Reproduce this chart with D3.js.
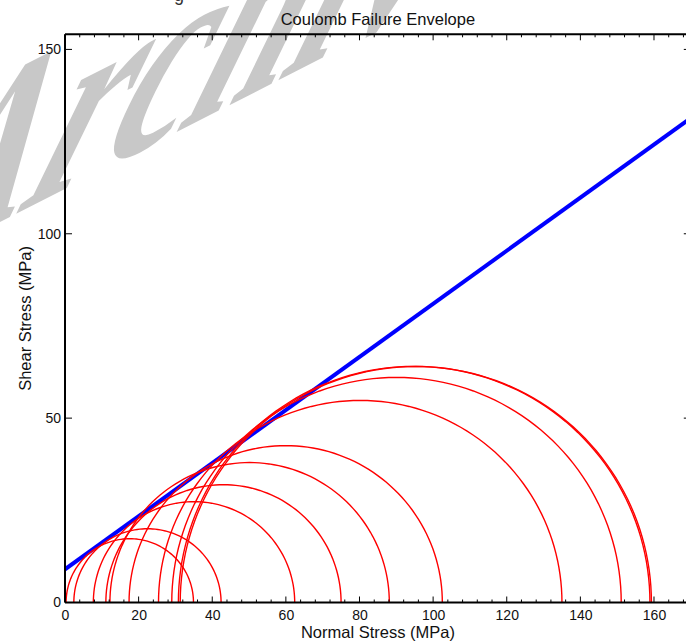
<!DOCTYPE html>
<html>
<head>
<meta charset="utf-8">
<script src="https://cdn.jsdelivr.net/npm/d3@7"></script>
<style>
  html, body { margin: 0; padding: 0; background: #fff; }
  svg { display: block; }
  text { font-family: "Liberation Sans", Arial, sans-serif; }
</style>
</head>
<body>
<svg id="chart" width="686" height="644"></svg>
<script>
// Mohr circles: minimum and maximum principal stresses (MPa)
const sigma3 = [0.3, 2.4, 7.7, 11.1, 12.2, 17.4, 25.4, 29.0, 30.8, 31.3];
const sigma1 = [34.9, 42.4, 62.4, 75.0, 88.1, 102.5, 135.0, 151.1, 158.9, 159.3];

// Coulomb envelope: tau = cohesion + mu * sigma
const cohesion = 9;
const frictionCoeff = 0.72;

// Axis ticks
const xMajorTicks = [0, 20, 40, 60, 80, 100, 120, 140, 160];
const yMajorTicks = [0, 50, 100, 150];
const xDomain = [0, 170];
const yDomain = [0, 154.1];

const titleText = "Coulomb Failure Envelope";
const xLabel = "Normal Stress (MPa)";
const yLabel = "Shear Stress (MPa)";

const svg = d3.select("#chart");
const plot = { left: 65, right: 690.8, top: 34.3, bottom: 602.5 };

const x = d3.scaleLinear().domain(xDomain).range([plot.left, plot.right]);
const y = d3.scaleLinear().domain(yDomain).range([plot.bottom, plot.top]);

// Background watermark lettering (skewed and stretched)
svg.append("text")
  .attr("transform", "matrix(0.900,-0.458,-0.690,1.420,-122,284)")
  .attr("font-weight", "bold")
  .attr("font-size", 205)
  .attr("fill", "#c8c8c8")
  .style("font-family", "'Liberation Serif', serif")
  .text("Archive");

// Header fragment above the page
svg.append("text")
  .attr("x", 174).attr("y", 1)
  .attr("font-size", 18)
  .attr("fill", "#333")
  .text("g");

svg.append("defs").append("clipPath").attr("id", "plotClip")
  .append("rect")
  .attr("x", plot.left).attr("y", plot.top)
  .attr("width", plot.right - plot.left).attr("height", plot.bottom - plot.top);

const g = svg.append("g").attr("clip-path", "url(#plotClip)");

// Failure envelope
const envLine = d3.line().x(d => x(d)).y(d => y(cohesion + frictionCoeff * d));
g.append("path")
  .datum(xDomain)
  .attr("d", envLine)
  .attr("fill", "none")
  .attr("stroke", "#0000ff")
  .attr("stroke-width", 4);

// Mohr semicircles traced in data space
const angles = d3.range(0, 181, 2).map(a => a * Math.PI / 180);
const circleLine = d3.line().x(d => x(d[0])).y(d => y(d[1]));
sigma3.forEach((s3, i) => {
  const s1 = sigma1[i];
  const c = (s1 + s3) / 2, r = (s1 - s3) / 2;
  const pts = angles.map(t => [c + r * Math.cos(t), r * Math.sin(t)]);
  g.append("path")
    .attr("d", circleLine(pts))
    .attr("fill", "none")
    .attr("stroke", "#ff0000")
    .attr("stroke-width", 1.4);
});

// Tick labels
const axesG = svg.append("g");
const xBottom = d3.axisBottom(x).tickValues(xMajorTicks).tickSize(0).tickPadding(8).tickFormat(d3.format("d"));
axesG.append("g").attr("transform", `translate(0,${plot.bottom})`).call(xBottom)
  .call(s => s.select(".domain").remove())
  .selectAll("text").attr("font-size", 14).attr("fill", "#111").attr("font-family", "Liberation Sans, Arial, sans-serif");

const yLeft = d3.axisLeft(y).tickValues(yMajorTicks).tickSize(0).tickPadding(4).tickFormat(d3.format("d"));
axesG.append("g").attr("transform", `translate(${plot.left},0)`).call(yLeft)
  .call(s => s.select(".domain").remove())
  .selectAll("text").attr("font-size", 14).attr("fill", "#111").attr("font-family", "Liberation Sans, Arial, sans-serif");

// Inward ticks on all four sides
const xMinor = d3.range(0, 170, 4);
const tickG = svg.append("g").attr("stroke", "#000").attr("stroke-width", 1);
xMinor.forEach(v => {
  const major = xMajorTicks.includes(v);
  const len = major ? 6 : 3;
  tickG.append("line").attr("x1", x(v)).attr("x2", x(v))
    .attr("y1", plot.bottom).attr("y2", plot.bottom - len);
  tickG.append("line").attr("x1", x(v)).attr("x2", x(v))
    .attr("y1", plot.top).attr("y2", plot.top + len);
});
yMajorTicks.forEach(v => {
  tickG.append("line").attr("x1", plot.left).attr("x2", plot.left + 7)
    .attr("y1", y(v)).attr("y2", y(v));
  tickG.append("line").attr("x1", plot.right).attr("x2", plot.right - 7)
    .attr("y1", y(v)).attr("y2", y(v));
});

// Frame lines
const frame = svg.append("g").attr("stroke", "#000").attr("stroke-width", 2).attr("fill", "none");
frame.append("line").attr("x1", plot.left).attr("x2", plot.right).attr("y1", plot.bottom).attr("y2", plot.bottom);
frame.append("line").attr("x1", plot.left).attr("x2", plot.right).attr("y1", plot.top).attr("y2", plot.top);
frame.append("line").attr("x1", plot.left).attr("x2", plot.left).attr("y1", plot.top).attr("y2", plot.bottom);
frame.append("line").attr("x1", plot.right).attr("x2", plot.right).attr("y1", plot.top).attr("y2", plot.bottom);

// Title and axis labels
svg.append("text")
  .attr("x", (plot.left + plot.right) / 2).attr("y", 25)
  .attr("text-anchor", "middle").attr("font-size", 16.5).attr("fill", "#111")
  .text(titleText);
svg.append("text")
  .attr("x", (plot.left + plot.right) / 2).attr("y", 638)
  .attr("text-anchor", "middle").attr("font-size", 16.5).attr("fill", "#111")
  .text(xLabel);
svg.append("text")
  .attr("transform", `translate(31,${(plot.top + plot.bottom) / 2}) rotate(-90)`)
  .attr("text-anchor", "middle").attr("font-size", 16.5).attr("fill", "#111")
  .text(yLabel);
</script>
</body>
</html>
